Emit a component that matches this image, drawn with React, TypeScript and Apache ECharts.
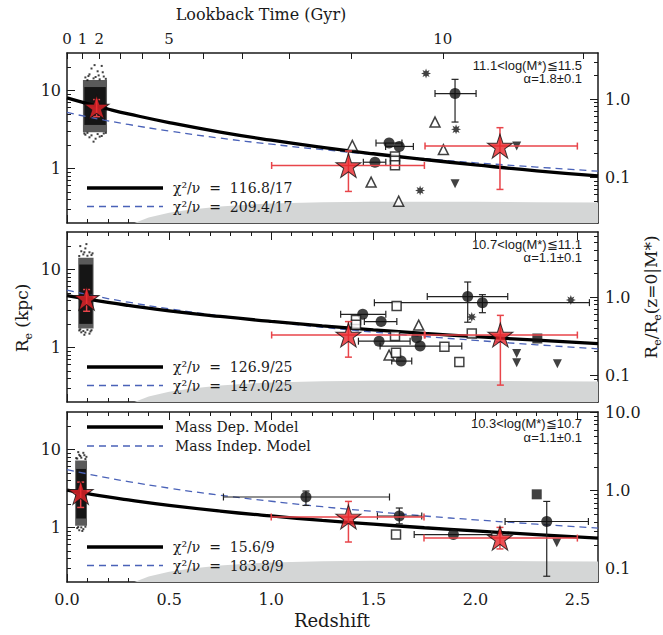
import React, { useEffect, useRef } from 'react';
import * as echarts from 'echarts';

const SERIF = "'DejaVu Serif', serif";
const SANS = "'Liberation Sans', sans-serif";
const INK = '#1a1a1a';

// ---------- axes ----------
const Z_MIN = 0;
const Z_MAX = 2.6;
const X_MAJOR = [0, 0.5, 1, 1.5, 2, 2.5];
const RE_MIN = 0.2;
const RE_MAX = 30;
const LEFT_MAJOR = [1, 10];
const LEFT_MINOR = [0.3, 0.4, 0.5, 0.6, 0.7, 0.8, 0.9, 2, 3, 4, 5, 6, 7, 8, 9, 20];
const RIGHT_MAJOR = [0.1, 1, 10];
const RIGHT_MINOR = [0.03, 0.04, 0.05, 0.06, 0.07, 0.08, 0.09, 0.2, 0.3, 0.4, 0.5, 0.6, 0.7, 0.8, 0.9, 2, 3, 4, 5, 6, 7, 8, 9];
const LOOKBACK_GYR = [0, 1, 2, 3, 4, 5, 6, 7, 8, 9, 10, 11];
const LOOKBACK_Z = [0, 0.076, 0.158, 0.26, 0.37, 0.5, 0.665, 0.86, 1.09, 1.39, 1.84, 2.53];
const LOOKBACK_LABELLED = [0, 1, 2, 5, 10];

// normalisation R_e(z=0|M*) per panel (right axis)
const RE0 = [7.7, 4.4, 2.95];

// ---------- panel texts ----------
const MASS_BIN = ['11.1<log(M*)≦11.5', '10.7<log(M*)≦11.1', '10.3<log(M*)≦10.7'];
const ALPHA = ['α=1.8±0.1', 'α=1.1±0.1', 'α=1.1±0.1'];
const CHI_DEP = ['116.8/17', '126.9/25', '15.6/9'];
const CHI_INDEP = ['209.4/17', '147.0/25', '183.8/9'];

// ---------- model curves ----------
const MODEL_Z = [0, 0.1, 0.2, 0.3, 0.5, 0.75, 1.0, 1.25, 1.5, 1.75, 2.0, 2.3, 2.6];
const DEP_RE = [
  [8.0, 6.74, 5.76, 4.99, 3.86, 2.92, 2.30, 1.86, 1.54, 1.30, 1.11, 0.93, 0.80],
  [4.6, 4.14, 3.76, 3.45, 2.94, 2.49, 2.15, 1.89, 1.68, 1.51, 1.37, 1.24, 1.12],
  [3.0, 2.70, 2.45, 2.25, 1.92, 1.62, 1.40, 1.23, 1.10, 0.99, 0.90, 0.81, 0.73],
];
const INDEP_RE = [
  [5.2, 4.57, 4.07, 3.65, 3.01, 2.44, 2.04, 1.74, 1.51, 1.33, 1.18, 1.04, 0.92],
  [5.4, 4.75, 4.22, 3.79, 3.12, 2.54, 2.12, 1.81, 1.57, 1.38, 1.23, 1.08, 0.96],
  [5.5, 4.84, 4.30, 3.86, 3.18, 2.58, 2.16, 1.84, 1.60, 1.40, 1.25, 1.10, 0.98],
];

// ---------- resolution limit (grey) ----------
const GRAY_Z = [0.33, 0.4, 0.5, 0.6, 0.75, 0.9, 1.0, 1.25, 1.5, 1.75, 2.0, 2.3, 2.6];
const GRAY_RE = [0.2, 0.235, 0.27, 0.295, 0.325, 0.345, 0.355, 0.368, 0.374, 0.375, 0.373, 0.37, 0.366];

// ---------- local (SDSS) cloud: [zmin, zmax, ReLow, ReHigh] ----------
const CLOUD_OUTER = [
  [0.078, 0.196, 2.9, 13.5],
  [0.055, 0.13, 1.75, 14],
  [0.04, 0.098, 1.05, 7.2],
];
const CLOUD_INNER = [
  [0.085, 0.19, 3.6, 11],
  [0.06, 0.125, 2.0, 11.5],
  [0.045, 0.093, 1.3, 5.6],
];
const CLOUD_DOTS = [
  [[0.10, 13.5], [0.13, 14.2], [0.16, 13.8], [0.18, 15], [0.11, 16], [0.15, 17.5], [0.12, 19], [0.17, 20.5],
   [0.14, 14.8], [0.19, 14.0], [0.09, 14.6], [0.155, 15.5], [0.105, 15.2], [0.175, 17], [0.135, 21],
   [0.09, 2.7], [0.12, 2.65], [0.15, 2.75], [0.18, 2.8], [0.11, 2.5], [0.14, 2.4], [0.17, 2.6], [0.1, 2.85],
   [0.19, 2.85], [0.13, 2.2], [0.16, 2.55], [0.085, 2.8]],
  [[0.06, 14.8], [0.08, 15.5], [0.1, 14.9], [0.12, 15.2], [0.07, 17], [0.09, 18.5], [0.11, 16.5], [0.065, 19.8],
   [0.125, 16], [0.085, 16.5], [0.095, 21],
   [0.06, 1.65], [0.08, 1.62], [0.1, 1.68], [0.12, 1.66], [0.07, 1.56], [0.09, 1.55], [0.11, 1.5], [0.085, 1.45],
   [0.115, 1.6], [0.065, 1.7]],
  [[0.05, 7.6], [0.07, 7.8], [0.09, 7.5], [0.06, 8.5], [0.08, 9.0], [0.045, 7.7], [0.095, 8.0], [0.065, 8.2],
   [0.085, 8.4], [0.055, 9.2],
   [0.05, 0.98], [0.07, 1.0], [0.09, 1.02], [0.06, 0.92], [0.08, 0.95], [0.055, 1.01], [0.075, 0.9]],
];

// ---------- measurements: [z, Re] or [z, Re, zLow, zHigh, ReLow, ReHigh] ----------
const STARS = [
  [[0.145, 6.1, 0.145, 0.145, 4.6, 7.6], [1.378, 1.09, 1.002, 1.75, 0.507, 1.67], [2.12, 1.93, 1.753, 2.499, 0.538, 3.32]],
  [[0.096, 4.25, 0.096, 0.096, 2.9, 5.5], [1.378, 1.44, 1.002, 1.75, 0.75, 2.14], [2.122, 1.44, 1.753, 2.499, 0.329, 2.57]],
  [[0.067, 2.81, 0.067, 0.067, 1.8, 3.8], [1.378, 1.36, 1.0, 1.748, 0.65, 2.15], [2.12, 0.73, 1.748, 2.499, 0.53, 1.0]],
];
const CIRCLES = [
  [[1.9, 9.07, 1.802, 2.003, 3.92, 13.8], [1.577, 2.11, 1.513, 1.64, 2.11, 2.11], [1.627, 1.91, 1.56, 1.696, 1.91, 1.91],
   [1.508, 1.2, 1.451, 1.561, 1.2, 1.2]],
  [[1.962, 4.47, 1.764, 2.158, 2.1, 6.87], [2.034, 3.74, 1.505, 2.558, 2.78, 4.73], [1.448, 2.65, 1.34, 1.561, 2.65, 2.65],
   [1.538, 2.14, 1.456, 1.615, 2.14, 2.14], [1.528, 1.2, 1.427, 1.68, 1.2, 1.2], [1.712, 1.33],
   [1.729, 1.04, 1.533, 1.933, 1.04, 1.04], [1.636, 0.668, 1.59, 1.688, 0.668, 0.668]],
  [[1.17, 2.45, 0.766, 1.579, 1.91, 2.92], [1.627, 1.4, 1.52, 1.737, 1.11, 1.77], [1.892, 0.81, 1.7, 2.08, 0.81, 0.81],
   [2.349, 1.19, 2.145, 2.553, 0.237, 2.15]],
];
const OPEN_TRIANGLES = [
  [[1.802, 3.92], [1.397, 1.97], [1.843, 1.74], [1.489, 0.668], [1.624, 0.381]],
  [[1.722, 1.93], [1.577, 0.797]],
  [],
];
const OPEN_SQUARES = [
  [[1.606, 1.42], [1.606, 1.25], [1.606, 1.1]],
  [[1.614, 3.38], [1.415, 2.25], [1.415, 1.95], [1.606, 1.4], [1.982, 1.51], [1.848, 1.02], [1.611, 0.855], [1.921, 0.648]],
  [[1.611, 0.81]],
];
const ASTERISKS = [
  [[1.758, 16.4], [1.905, 3.16], [1.729, 0.522]],
  [[2.467, 4.04], [1.982, 2.45]],
  [],
];
const DOWN_TRIANGLES = [
  [[2.202, 1.93], [1.9, 0.637]],
  [[2.202, 0.838], [2.202, 0.636], [2.401, 0.618]],
  [[2.398, 0.637]],
];
const FILLED_SQUARES = [
  [],
  [[2.303, 1.3]],
  [[2.3, 2.65]],
];

// ---------- layout ----------
const GRID_TOP = [53, 232, 412];
const GRID_H = 170;
const GRID_LEFT = 67;
const GRID_RIGHT = 65;

const STAR_PATH = 'path://M50,0 L61.23,34.55 L97.55,34.55 L68.17,55.9 L79.39,90.45 L50,69.1 L20.61,90.45 L31.83,55.9 L2.45,34.55 L38.77,34.55 Z';
const ASTER_PATH = 'path://M100,50 L73.10,59.57 L85.36,85.36 L59.57,73.10 L50,100 L40.43,73.10 L14.64,85.36 L26.90,59.57 L0,50 L26.90,40.43 L14.64,14.64 L40.43,26.90 L50,0 L59.57,26.90 L85.36,14.64 L73.10,40.43 Z';

function errRender(color: string, width: number, cap: number) {
  return (params: any, api: any) => {
    const z = api.value(0), re = api.value(1);
    const zlo = api.value(2), zhi = api.value(3), rlo = api.value(4), rhi = api.value(5);
    const st = { stroke: color, lineWidth: width };
    const ch: any[] = [];
    const ln = (x1: number, y1: number, x2: number, y2: number) =>
      ch.push({ type: 'line', shape: { x1, y1, x2, y2 }, style: st });
    if (zhi > zlo) {
      const a = api.coord([zlo, re]);
      const b = api.coord([zhi, re]);
      ln(a[0], a[1], b[0], b[1]);
      ln(a[0], a[1] - cap, a[0], a[1] + cap);
      ln(b[0], b[1] - cap, b[0], b[1] + cap);
    }
    if (rhi > rlo) {
      const a = api.coord([z, rlo]);
      const b = api.coord([z, rhi]);
      ln(a[0], a[1], b[0], b[1]);
      ln(a[0] - cap, a[1], a[0] + cap, a[1]);
      ln(b[0] - cap, b[1], b[0] + cap, b[1]);
    }
    return { type: 'group', children: ch };
  };
}

function rectRender(fill: string) {
  return (params: any, api: any) => {
    const p0 = api.coord([api.value(0), api.value(3)]);
    const p1 = api.coord([api.value(1), api.value(2)]);
    return {
      type: 'rect',
      shape: { x: p0[0], y: p0[1], width: p1[0] - p0[0], height: p1[1] - p0[1] },
      style: { fill },
    };
  };
}

function buildOption() {
  const grid: any[] = [];
  const xAxis: any[] = [];
  const yAxis: any[] = [];
  const series: any[] = [];
  const graphic: any[] = [];
  const lineSt = { color: INK, width: 1.5 };
  const tickSt = { color: INK, width: 1 };
  const txt = (x: number, y: number, text: string, font: string, align: string) => ({
    type: 'text', x, y, z: 100,
    style: { text, font, fill: INK, align, verticalAlign: 'middle' },
  });

  for (let i = 0; i < 3; i++) {
    grid.push({ left: GRID_LEFT, right: GRID_RIGHT, top: GRID_TOP[i], height: GRID_H, containLabel: false });

    xAxis.push({
      type: 'value', gridIndex: i, min: Z_MIN, max: Z_MAX, interval: 0.5, position: 'bottom',
      axisLine: { show: true, onZero: false, lineStyle: lineSt },
      axisTick: { show: true, inside: true, length: 8, lineStyle: tickSt, customValues: X_MAJOR },
      minorTick: { show: true, splitNumber: 5, length: 4, lineStyle: tickSt },
      splitLine: { show: false },
      axisLabel: {
        show: i === 2, customValues: X_MAJOR, margin: 9, fontSize: 16, fontFamily: SERIF, color: INK,
        formatter: (v: number) => v.toFixed(1),
      },
    });
    if (i === 0) {
      xAxis.push({
        type: 'value', gridIndex: i, min: Z_MIN, max: Z_MAX, position: 'top',
        axisLine: { show: true, onZero: false, lineStyle: lineSt },
        axisTick: { show: true, inside: true, length: 6, lineStyle: tickSt, customValues: LOOKBACK_Z },
        splitLine: { show: false },
        axisLabel: {
          show: true, margin: 7, fontSize: 15, fontFamily: SERIF, color: INK,
          customValues: LOOKBACK_LABELLED.map((g) => LOOKBACK_Z[LOOKBACK_GYR.indexOf(g)]),
          formatter: (v: number) => {
            let best = 0;
            for (let k = 0; k < LOOKBACK_Z.length; k++) {
              if (Math.abs(LOOKBACK_Z[k] - v) < Math.abs(LOOKBACK_Z[best] - v)) best = k;
            }
            return String(LOOKBACK_GYR[best]);
          },
        },
      });
    } else {
      xAxis.push({
        type: 'value', gridIndex: i, min: Z_MIN, max: Z_MAX, interval: 0.5, position: 'top',
        axisLine: { show: true, onZero: false, lineStyle: lineSt },
        axisTick: { show: true, inside: true, length: 8, lineStyle: tickSt, customValues: X_MAJOR },
        minorTick: { show: true, splitNumber: 5, length: 4, lineStyle: tickSt },
        splitLine: { show: false },
        axisLabel: { show: false },
      });
    }

    const rmin = RE_MIN / RE0[i];
    const rmax = RE_MAX / RE0[i];
    yAxis.push({
      type: 'log', gridIndex: i, min: RE_MIN, max: RE_MAX, position: 'left',
      axisLine: { show: true, onZero: false, lineStyle: lineSt },
      axisTick: { show: true, inside: true, length: 8, lineStyle: tickSt, customValues: LEFT_MAJOR },
      splitLine: { show: false },
      axisLabel: {
        show: true, customValues: LEFT_MAJOR, margin: 6, fontSize: 16, fontFamily: SERIF, color: INK,
        formatter: (v: number) => String(Math.round(v)),
      },
    });
    yAxis.push({
      type: 'log', gridIndex: i, min: RE_MIN, max: RE_MAX, position: 'left',
      axisLine: { show: false, onZero: false },
      axisTick: { show: true, inside: true, length: 4, lineStyle: tickSt, customValues: LEFT_MINOR },
      splitLine: { show: false },
      axisLabel: { show: false },
    });
    yAxis.push({
      type: 'log', gridIndex: i, min: rmin, max: rmax, position: 'right',
      axisLine: { show: true, onZero: false, lineStyle: lineSt },
      axisTick: { show: true, inside: true, length: 8, lineStyle: tickSt, customValues: RIGHT_MAJOR },
      splitLine: { show: false },
      axisLabel: {
        show: true, customValues: RIGHT_MAJOR, margin: 7, fontSize: 16, fontFamily: SERIF, color: INK,
        formatter: (v: number) => v.toFixed(1),
      },
    });
    yAxis.push({
      type: 'log', gridIndex: i, min: rmin, max: rmax, position: 'right',
      axisLine: { show: false, onZero: false },
      axisTick: { show: true, inside: true, length: 4, lineStyle: tickSt, customValues: RIGHT_MINOR },
      splitLine: { show: false },
      axisLabel: { show: false },
    });

    const on = { xAxisIndex: 2 * i, yAxisIndex: 4 * i };

    series.push({
      type: 'line', ...on, data: GRAY_Z.map((z, k) => [z, GRAY_RE[k]]), symbol: 'none', silent: true,
      lineStyle: { width: 0, color: '#d4d6d6' },
      areaStyle: { color: '#d4d6d6', opacity: 1, origin: 'start' }, z: 1,
    });
    series.push({ type: 'custom', ...on, data: [CLOUD_OUTER[i]], renderItem: rectRender('#5a5a5a'), z: 2 });
    series.push({ type: 'custom', ...on, data: [CLOUD_INNER[i]], renderItem: rectRender('#151515'), z: 2 });
    series.push({
      type: 'scatter', ...on, data: CLOUD_DOTS[i], symbol: 'rect', symbolSize: 2,
      itemStyle: { color: '#111' }, z: 2,
    });
    series.push({
      type: 'line', ...on, data: MODEL_Z.map((z, k) => [z, INDEP_RE[i][k]]), symbol: 'none', smooth: true,
      lineStyle: { color: '#4a62b8', width: 1.3, type: [7, 5] }, z: 3,
    });
    series.push({
      type: 'line', ...on, data: MODEL_Z.map((z, k) => [z, DEP_RE[i][k]]), symbol: 'none', smooth: true,
      lineStyle: { color: '#000', width: 3.3 }, z: 3,
    });
    series.push({
      type: 'custom', ...on, data: CIRCLES[i].filter((d) => d.length === 6),
      renderItem: errRender('#222', 1.2, 3.5), z: 4,
    });
    series.push({ type: 'scatter', ...on, data: CIRCLES[i], symbol: 'circle', symbolSize: 11, itemStyle: { color: '#111' }, z: 5 });
    series.push({
      type: 'scatter', ...on, data: OPEN_TRIANGLES[i], symbol: 'triangle', symbolSize: 10,
      itemStyle: { color: '#fff', borderColor: '#111', borderWidth: 1.5 }, z: 5,
    });
    series.push({
      type: 'scatter', ...on, data: OPEN_SQUARES[i], symbol: 'rect', symbolSize: 9,
      itemStyle: { color: '#fff', borderColor: '#111', borderWidth: 1.5 }, z: 5,
    });
    series.push({ type: 'scatter', ...on, data: ASTERISKS[i], symbol: ASTER_PATH, symbolSize: 10, itemStyle: { color: '#111' }, z: 5 });
    series.push({
      type: 'scatter', ...on, data: DOWN_TRIANGLES[i], symbol: 'triangle', symbolRotate: 180, symbolSize: 9,
      itemStyle: { color: '#111' }, z: 5,
    });
    series.push({ type: 'scatter', ...on, data: FILLED_SQUARES[i], symbol: 'rect', symbolSize: 10, itemStyle: { color: '#111' }, z: 5 });
    series.push({ type: 'custom', ...on, data: STARS[i], renderItem: errRender('#e8454a', 1.5, 3.5), z: 6 });
    series.push({
      type: 'scatter', ...on, data: STARS[i], symbol: STAR_PATH, symbolSize: [25, 24],
      itemStyle: { color: '#e8262b', borderColor: '#111', borderWidth: 1 }, z: 7,
    });

    const top = GRID_TOP[i];
    graphic.push(txt(582, top + (i === 2 ? 11 : 12), MASS_BIN[i], `13px ${SANS}`, 'right'));
    graphic.push(txt(582, top + 25.5, ALPHA[i], `13px ${SANS}`, 'right'));
    const legRows = [top + 135, top + 153.5];
    graphic.push({ type: 'line', z: 100, shape: { x1: 87, y1: legRows[0], x2: 163, y2: legRows[0] }, style: { stroke: '#000', lineWidth: 3.5 } });
    graphic.push({
      type: 'line', z: 100, shape: { x1: 87, y1: legRows[1], x2: 163, y2: legRows[1] },
      style: { stroke: '#4a62b8', lineWidth: 1.3, lineDash: [7, 5] },
    });
    graphic.push(txt(173, legRows[0], 'χ²/ν  =  ' + CHI_DEP[i], `14px ${SERIF}`, 'left'));
    graphic.push(txt(173, legRows[1], 'χ²/ν  =  ' + CHI_INDEP[i], `14px ${SERIF}`, 'left'));
    if (i === 2) {
      graphic.push({ type: 'line', z: 100, shape: { x1: 87, y1: top + 15, x2: 163, y2: top + 15 }, style: { stroke: '#000', lineWidth: 3.5 } });
      graphic.push({
        type: 'line', z: 100, shape: { x1: 87, y1: top + 34, x2: 163, y2: top + 34 },
        style: { stroke: '#4a62b8', lineWidth: 1.3, lineDash: [7, 5] },
      });
      graphic.push(txt(175, top + 15, 'Mass Dep. Model', `14px ${SERIF}`, 'left'));
      graphic.push(txt(175, top + 34, 'Mass Indep. Model', `14px ${SERIF}`, 'left'));
    }
  }

  graphic.push(txt(261, 14, 'Lookback Time (Gyr)', `16px ${SERIF}`, 'center'));
  graphic.push(txt(332, 620, 'Redshift', `18px ${SERIF}`, 'center'));
  const rich = {
    a: { fontSize: 17, fontFamily: SERIF, fill: INK, lineHeight: 24 },
    s: { fontSize: 11, fontFamily: SERIF, fill: INK, lineHeight: 12, verticalAlign: 'bottom' },
  };
  graphic.push({
    type: 'text', x: 22, y: 318, z: 100, rotation: Math.PI / 2,
    style: { text: '{a|R}{s|e}{a| (kpc)}', rich, align: 'center', verticalAlign: 'middle' },
  });
  graphic.push({
    type: 'text', x: 651, y: 297, z: 100, rotation: Math.PI / 2,
    style: { text: '{a|R}{s|e}{a|/R}{s|e}{a|(z=0|M*)}', rich, align: 'center', verticalAlign: 'middle' },
  });

  return { animation: false, backgroundColor: '#fff', grid, xAxis, yAxis, series, graphic };
}

export default function App() {
  const ref = useRef<HTMLDivElement>(null);
  useEffect(() => {
    if (!ref.current) return;
    const chart = echarts.init(ref.current, undefined, { renderer: 'svg' });
    chart.setOption(buildOption() as any);
    return () => chart.dispose();
  }, []);
  return <div ref={ref} style={{ position: 'absolute', left: 0, top: 0, width: 663, height: 635, background: '#fff' }} />;
}
